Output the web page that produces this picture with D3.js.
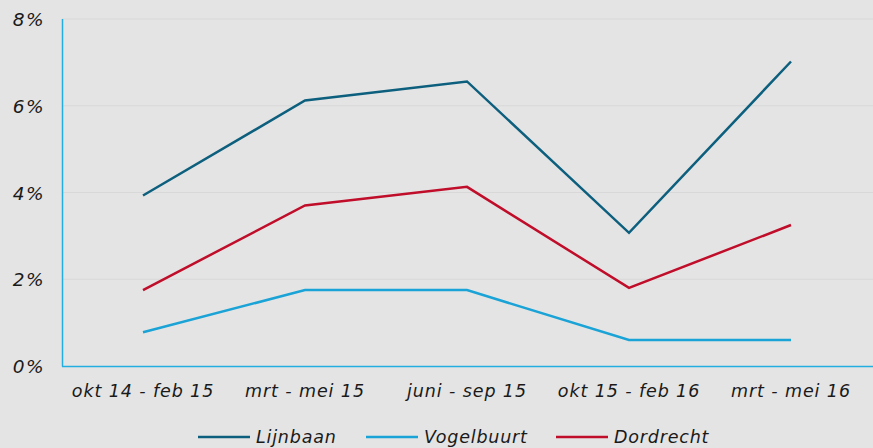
<!DOCTYPE html>
<html lang="en">
<head>
  <meta charset="UTF-8">
  <title>Lijnbaan chart</title>
  <script src="https://d3js.org/d3.v7.min.js"></script>
  <style>
    body { margin: 0; background: #e4e4e4; }
    text { font-family: "DejaVu Sans", Verdana, sans-serif; font-style: italic; fill: #1a1a1a; }
  </style>
</head>
<body>
  <svg width="873" height="448"></svg>
  <script>
    // data
    const categories = ["okt 14 - feb 15", "mrt - mei 15", "juni - sep 15", "okt 15 - feb 16", "mrt - mei 16"];
    const lijnbaan = [3.93, 6.12, 6.56, 3.07, 7.02];
    const vogelbuurt = [0.78, 1.75, 1.75, 0.6, 0.6];
    const dordrecht = [1.75, 3.7, 4.13, 1.8, 3.25];
    const yTicks = [0, 2, 4, 6, 8];

    const series = [
      { name: "Lijnbaan", values: lijnbaan, color: "#0d5f7e" },
      { name: "Vogelbuurt", values: vogelbuurt, color: "#1aa3d6" },
      { name: "Dordrecht", values: dordrecht, color: "#c00d2a" }
    ];

    const svg = d3.select("svg");
    svg.append("rect").attr("width", 873).attr("height", 448).attr("fill", "#e4e4e4");

    const x = d3.scaleBand().domain(categories).range([62, 872]);
    const y = d3.scaleLinear().domain([0, 8]).range([366, 19]);

    // gridlines
    svg.append("g").selectAll("line").data(yTicks.filter(d => d > 0)).join("line")
      .attr("x1", 62).attr("x2", 873)
      .attr("y1", d => y(d)).attr("y2", d => y(d))
      .attr("stroke", "#d8d8d8").attr("stroke-width", 1);

    // y labels
    svg.append("g").selectAll("text").data(yTicks).join("text")
      .attr("x", 45).attr("y", d => y(d) + 7)
      .attr("text-anchor", "end")
      .style("font-size", "18.5px")
      .style("letter-spacing", "1.5px")
      .text(d => d + "%");

    // axes
    svg.append("line").attr("x1", 62.5).attr("x2", 62.5).attr("y1", 19).attr("y2", 366.5)
      .attr("stroke", "#22aee0").attr("stroke-width", 1.5);
    svg.append("line").attr("x1", 62).attr("x2", 873).attr("y1", 366.5).attr("y2", 366.5)
      .attr("stroke", "#22aee0").attr("stroke-width", 1.5);

    // x labels
    svg.append("g").selectAll("text").data(categories).join("text")
      .attr("x", d => x(d) + x.bandwidth() / 2).attr("y", 397)
      .attr("text-anchor", "middle")
      .style("font-size", "17.5px")
      .style("letter-spacing", "0.9px")
      .text(d => d);

    const line = d3.line()
      .x((d, i) => x(categories[i]) + x.bandwidth() / 2)
      .y(d => y(d));

    svg.append("g").selectAll("path").data(series).join("path")
      .attr("d", d => line(d.values))
      .attr("fill", "none")
      .attr("stroke", d => d.color)
      .attr("stroke-width", 2.5);

    // legend
    const legendX = [198, 366, 556];
    const lg = svg.append("g").selectAll("g").data(series).join("g")
      .attr("transform", (d, i) => `translate(${legendX[i]},437)`);
    lg.append("line").attr("x1", 0).attr("x2", 52).attr("y1", 0).attr("y2", 0)
      .attr("stroke", d => d.color).attr("stroke-width", 2.5);
    lg.append("text").attr("x", 58).attr("y", 6)
      .style("font-size", "17.5px")
      .style("letter-spacing", "0.8px")
      .text(d => d.name);
  </script>
</body>
</html>
